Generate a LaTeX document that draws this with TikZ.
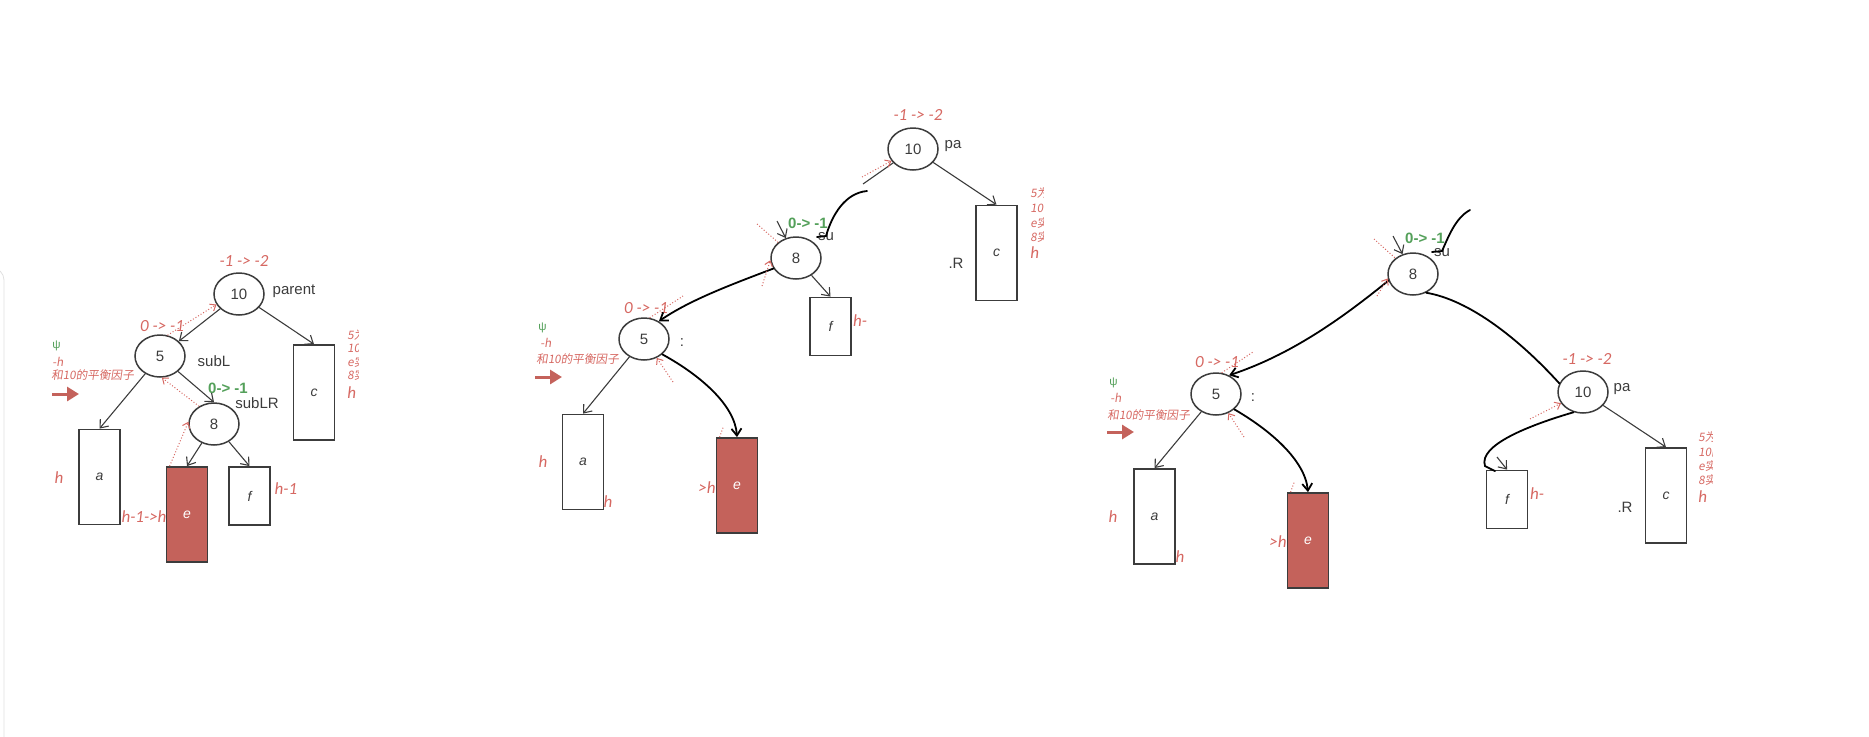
\documentclass[tikz,border=0pt]{standalone}
\usepackage{fontspec}
\setmainfont{Liberation Sans}
\newfontfamily\notefont{Carlito}
\newfontfamily\cjk[FakeSlant=0.15]{Noto Sans CJK SC}
\usetikzlibrary{shapes.geometric,arrows.meta}
\definecolor{notered}{RGB}{214,104,98}
\definecolor{boxred}{RGB}{196,98,91}
\definecolor{notegreen}{RGB}{84,160,90}
\definecolor{inkgray}{RGB}{60,60,60}
\tikzset{
  treenode/.style={ellipse,draw=inkgray,line width=0.75pt,minimum width=25pt,minimum height=21pt,inner sep=0pt,text=inkgray,font=\fontsize{7.5}{8}\selectfont},
  subtree/.style={rectangle,draw=inkgray,line width=0.9pt,minimum width=20.5pt,inner sep=0pt,text=inkgray,font=\fontsize{7}{8}\selectfont\itshape},
  tallbox/.style={subtree,minimum height=47.5pt},
  shortbox/.style={subtree,minimum height=29pt},
  hotbox/.style={tallbox,fill=boxred,text=white},
  lbl/.style={inner sep=0pt,text=inkgray,font=\fontsize{7.5}{8}\selectfont},
  note/.style={inner sep=0pt,text=notered,font=\notefont\fontsize{8.5}{9}\selectfont\itshape},
  gnote/.style={inner sep=0pt,text=notegreen,font=\fontsize{7.5}{8}\selectfont\bfseries},
  smallnote/.style={inner sep=0pt,anchor=west,text=notered,font=\cjk\fontsize{5.8}{6}\selectfont},
  edge/.style={-{Straight Barb[length=3.5pt,width=5.5pt]},draw=inkgray,line width=0.55pt},
  hand/.style={draw=black,line width=0.9pt,line cap=round},
  handarrow/.style={hand,-{Straight Barb[length=3.5pt,width=5pt]}},
  back/.style={-{Straight Barb[length=2.5pt,width=4pt]},draw=notered,densely dotted,line width=0.5pt},
  backline/.style={draw=notered,densely dotted,line width=0.5pt},
  bigarrow/.style={-{Triangle[length=6pt,width=7pt]},draw=boxred,line width=1.5pt}
}
\begin{document}
\begin{tikzpicture}[x=0.5pt,y=-0.5pt]
\useasboundingbox (0,0) rectangle (1869,736);
% panel edge on the left
\draw[black!12,rounded corners=6pt] (-20,268) -- (4,268) -- (4,740);

% first tree: before the rotation
\node[treenode] (A10) at (239,294) {10};
\node[treenode] (A5) at (160,356) {5};
\node[treenode] (A8) at (214,424) {8};
\node[tallbox] (Aa) at (99.5,477) {a};
\node[hotbox] (Ae) at (187,514.5) {e};
\node[shortbox] (Af) at (249.5,496) {f};
\node[tallbox] (Ac) at (314,392.5) {c};
\node[lbl] (Apar) at (294,291) {parent};
\node[lbl] (AsubL) at (214,361) {subL};
\node[lbl] (AsubLR) at (257,403) {subLR};
\node[note] (Abf10) at (244,261) {-1 -> -2};
\node[note] (Abf5) at (162,326) {0 -> -1};
\node[gnote] (Abf8) at (228,388) {0-> -1};
\node[note] (Aha) at (59,478) {h};
\node[note] (Ahf) at (286,489) {h-1};
\node[note] (Ahe) at (144,517) {h-1->h};
\draw[edge] (A10) -- (A5);
\draw[edge] (A10) -- (Ac.north);
\draw[edge] (A5) -- (Aa.north);
\draw[edge] (A5) -- (A8.north);
\draw[edge] (A8) -- (Ae.north);
\draw[edge] (A8) -- (Af.north);
\draw[back] (A5.70) -- (A10.205);
\draw[back] (A8.130) -- (A5.-85);
\draw[back] ([xshift=2pt]Ae.north west) -- (A8.175);
% notes
\node[smallnote,text=notegreen,font=\fontsize{5.8}{6}\selectfont] (Apsi) at (52,346) {ψ};
\node[smallnote] (Al1) at (52,362) {-h};
\node[smallnote] (Al2) at (51,375) {和10的平衡因子};
\coordinate (Aarr0) at (52,394);
\coordinate (Aarr1) at (79,394);
\draw[bigarrow] (Aarr0) -- (Aarr1);
\begin{scope}
\clip (340,320) rectangle (358,384);
\node[smallnote] (Ar1) at (347,335) {5为平衡};
\node[smallnote] (Ar2) at (347,348) {10的};
\node[smallnote] (Ar3) at (347,362) {e实际};
\node[smallnote] (Ar4) at (347,375) {8实际};
\end{scope}
\node[note,anchor=west] (Ar5) at (347,393) {h};

% second tree: 8 goes up
\node[treenode] (B10) at (913,149) {10};
\node[treenode] (B8) at (796,258) {8};
\node[treenode] (B5) at (644,339) {5};
\node[tallbox] (Bc) at (996.5,253) {c};
\node[shortbox] (Bf) at (830.5,326.5) {f};
\node[tallbox] (Ba) at (583,462) {a};
\node[hotbox] (Be) at (737,485.5) {e};
\node[lbl] (Bpa) at (953,146) {pa};
\node[lbl] (Bsu) at (826,237) {su};
\node[lbl] (BR) at (956,263) {.R};
\node[lbl] (Bcolon) at (682,343) {:};
\node[note] (Bbf10) at (918,115) {-1 -> -2};
\node[gnote] (Bbf8) at (808,223) {0-> -1};
\node[note] (Bbf5) at (646,308) {0 -> -1};
\node[note] (Bha) at (543,462) {h};
\node[note] (Bha2) at (608,502) {h};
\node[note] (Bhe) at (707,488) {>h};
\node[note] (Bhf) at (860,321) {h-};
\coordinate (Bk1) at (863,184);
\coordinate (Bk2) at (867,191);
\coordinate (Bk3) at (817,237);
\coordinate (Bk4) at (777,221);
\coordinate (Bd1) at (757,224);
\coordinate (Bd2) at (862,177);
\coordinate (Bd3) at (762,286);
\coordinate (Bd4) at (683,296);
\coordinate (Bd5) at (673,382);
\draw[edge,-] (B10) -- (Bk1);
\draw[hand] (Bk2) .. controls (845,193) and (832,215) .. (826,236) -- (Bk3);
\draw[edge] (Bk4) -- (B8);
\draw[backline] (Bd1) -- (B8);
\draw[back] (Bd2) -- (B10);
\draw[edge] (B10) -- (Bc.north);
\draw[edge] (B8) -- (Bf.north);
\draw[handarrow] (B8.205) .. controls (730,285) and (690,300) .. (B5.50);
\draw[back] (Bd3) -- (B8.185);
\draw[backline] (B5.75) -- (Bd4);
\draw[edge] (B5) -- (Ba.north);
\draw[handarrow] (B5.-40) .. controls (700,375) and (735,405) .. (Be.north);
\draw[back] (Bd5) -- (B5);
\draw[backline] ([xshift=2pt]Be.north west) -- ++(4,-11);
% notes
\node[smallnote,text=notegreen,font=\fontsize{5.8}{6}\selectfont] (Bpsi) at (538,328) {ψ};
\node[smallnote] (Bl1) at (540,343) {-h};
\node[smallnote] (Bl2) at (536,359) {和10的平衡因子};
\coordinate (Barr0) at (535,377);
\coordinate (Barr1) at (562,377);
\draw[bigarrow] (Barr0) -- (Barr1);
\begin{scope}
\clip (1024,180) rectangle (1043,244);
\node[smallnote] (Br1) at (1030,193) {5为平衡};
\node[smallnote] (Br2) at (1030,208) {10的};
\node[smallnote] (Br3) at (1030,223) {e实际};
\node[smallnote] (Br4) at (1030,237) {8实际};
\end{scope}
\node[note,anchor=west] (Br5) at (1030,253) {h};

% third tree: after the rotation
\node[treenode] (C8) at (1413,274) {8};
\node[treenode] (C5) at (1216,394) {5};
\node[treenode] (C10) at (1583,392) {10};
\node[tallbox] (Ca) at (1154.5,516.5) {a};
\node[hotbox] (Ce) at (1308,540.5) {e};
\node[shortbox] (Cf) at (1507,499.5) {f};
\node[tallbox] (Cc) at (1666,495.5) {c};
\node[lbl] (Csu) at (1442,253) {su};
\node[lbl] (Ccolon) at (1253,398) {:};
\node[lbl] (Cpa) at (1622,389) {pa};
\node[lbl] (CR) at (1625,507) {.R};
\node[gnote] (Cbf8) at (1425,238) {0-> -1};
\node[note] (Cbf5) at (1217,362) {0 -> -1};
\node[note] (Cbf10) at (1587,359) {-1 -> -2};
\node[note] (Cha) at (1113,517) {h};
\node[note] (Cha2) at (1180,557) {h};
\node[note] (Che) at (1278,542) {>h};
\node[note] (Chf) at (1537,494) {h-};
\coordinate (Ck1) at (1470,210);
\coordinate (Ck2) at (1432,252);
\coordinate (Ck3) at (1393,236);
\coordinate (Ck4) at (1495,471);
\coordinate (Ck5) at (1497,457);
\coordinate (Cd1) at (1374,239);
\coordinate (Cd2) at (1253,352);
\coordinate (Cd3) at (1377,296);
\coordinate (Cd4) at (1530,419);
\coordinate (Cd5) at (1244,437);
\draw[hand] (Ck1) .. controls (1455,218) and (1448,238) .. (1442,251) -- (Ck2);
\draw[edge] (Ck3) -- (C8);
\draw[backline] (Cd1) -- (C8);
\draw[handarrow] (C8.195) .. controls (1340,320) and (1290,355) .. (C5.55);
\draw[back] (Cd3) -- (C8.190);
\draw[backline] (C5.75) -- (Cd2);
\draw[hand] (C8.-55) .. controls (1470,300) and (1520,340) .. (C10.160);
\draw[edge] (C10) -- (Cc.north);
\draw[hand] (C10.-115) .. controls (1530,425) and (1478,445) .. (1485,466) -- (Ck4);
\draw[edge] (Ck5) -- (Cf.north);
\draw[back] (Cd4) -- (C10);
\draw[edge] (C5) -- (Ca.north);
\draw[handarrow] (C5.-40) .. controls (1270,430) and (1305,460) .. (Ce.north);
\draw[back] (Cd5) -- (C5);
\draw[backline] ([xshift=2pt]Ce.north west) -- ++(4,-11);
% notes
\node[smallnote,text=notegreen,font=\fontsize{5.8}{6}\selectfont] (Cpsi) at (1109,383) {ψ};
\node[smallnote] (Cl1) at (1110,398) {-h};
\node[smallnote] (Cl2) at (1107,415) {和10的平衡因子};
\coordinate (Carr0) at (1107,432);
\coordinate (Carr1) at (1134,432);
\draw[bigarrow] (Carr0) -- (Carr1);
\begin{scope}
\clip (1692,424) rectangle (1712,488);
\node[smallnote] (Cr1) at (1698,437) {5为平衡};
\node[smallnote] (Cr2) at (1698,452) {10的};
\node[smallnote] (Cr3) at (1698,466) {e实际};
\node[smallnote] (Cr4) at (1698,480) {8实际};
\end{scope}
\node[note,anchor=west] (Cr5) at (1698,497) {h};
\end{tikzpicture}
\end{document}
